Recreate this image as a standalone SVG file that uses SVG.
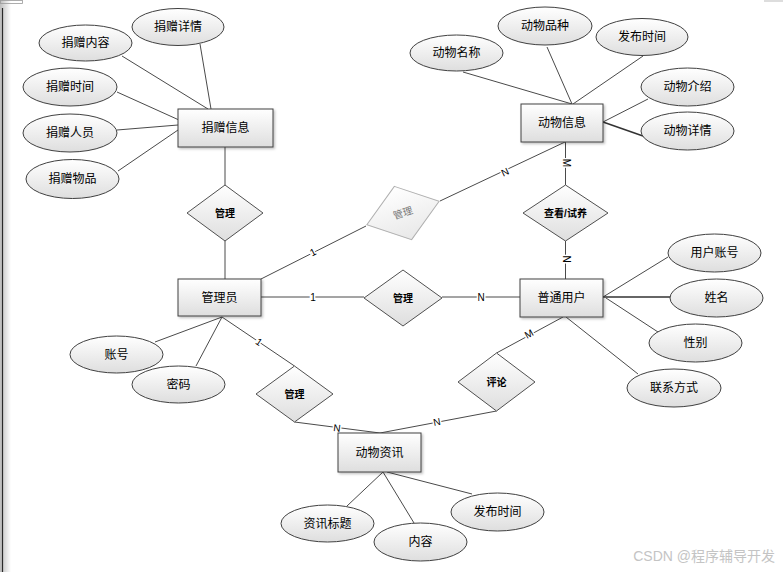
<svg xmlns="http://www.w3.org/2000/svg" width="783" height="572" viewBox="0 0 783 572">
<defs>
<linearGradient id="g" x1="0" y1="0" x2="0" y2="1">
<stop offset="0" stop-color="#ffffff"/>
<stop offset="1" stop-color="#dedede"/>
</linearGradient>
<linearGradient id="gf" x1="0" y1="0" x2="0" y2="1">
<stop offset="0" stop-color="#ffffff"/>
<stop offset="1" stop-color="#e8e8e8"/>
</linearGradient>
<linearGradient id="edge" x1="0" y1="0" x2="1" y2="0">
<stop offset="0" stop-color="#bdbdbd"/>
<stop offset="1" stop-color="#ffffff"/>
</linearGradient>
<filter id="sh" x="-20%" y="-20%" width="150%" height="150%">
<feDropShadow dx="1.5" dy="1.5" stdDeviation="1" flood-color="#000" flood-opacity="0.25"/>
</filter>
</defs>
<style>
.ent{fill:url(#g);stroke:#404040;stroke-width:1;filter:url(#sh)}
.att{fill:url(#g);stroke:#404040;stroke-width:1}
.rel{fill:url(#g);stroke:#505050;stroke-width:1}
.relf{fill:url(#gf);stroke:#b0b0b0;stroke-width:1}
.t{font-family:"Liberation Sans","Noto Sans CJK SC",sans-serif;font-size:12px;fill:#000;text-anchor:middle;dominant-baseline:central}
.tr{font-family:"Liberation Sans","Noto Sans CJK SC",sans-serif;font-size:10px;fill:#000;text-anchor:middle;dominant-baseline:central;font-weight:bold}
.lbl{font-family:"Liberation Sans",sans-serif;font-size:10px;fill:#000;text-anchor:middle;dominant-baseline:central;paint-order:stroke;stroke:#fff;stroke-width:3px}
.ln{stroke:#4a4a4a;stroke-width:1;fill:none}
.lnb{stroke:#333;stroke-width:1.6;fill:none}
</style>
<rect width="783" height="572" fill="#fff"/>
<rect x="0" y="0" width="11" height="572" fill="url(#edge)"/>
<line x1="2.5" y1="8" x2="2.5" y2="572" stroke="#2a2a2a" stroke-width="1.2"/>
<rect x="0.5" y="0.5" width="22" height="3" fill="none" stroke="#999" stroke-width="0.8"/>
<line x1="764" y1="1" x2="783" y2="1" stroke="#bbb" stroke-width="1"/>

<g id="connectors">
<line class="ln" x1="200" y1="44" x2="211" y2="109"/>
<line class="ln" x1="122" y1="56" x2="208" y2="109"/>
<line class="ln" x1="117" y1="92" x2="179" y2="120"/>
<line class="ln" x1="117" y1="130" x2="178" y2="125"/>
<line class="ln" x1="118" y1="171" x2="178" y2="130"/>
<line class="ln" x1="225" y1="147" x2="225" y2="185"/>
<line class="ln" x1="225" y1="241" x2="225" y2="279"/>
<line class="ln" x1="261" y1="279" x2="366" y2="226"/>
<line class="ln" x1="440" y1="201" x2="565" y2="142"/>
<line class="ln" x1="463" y1="72" x2="572" y2="104"/>
<line class="ln" x1="547" y1="47" x2="572" y2="104"/>
<line class="ln" x1="643" y1="56" x2="573" y2="104"/>
<line class="ln" x1="648" y1="99" x2="603" y2="122"/>
<line class="lnb" x1="603" y1="122" x2="643" y2="136"/>
<line class="ln" x1="565.5" y1="142" x2="565.5" y2="185"/>
<line class="ln" x1="565.5" y1="241" x2="565.5" y2="279"/>
<line class="ln" x1="261" y1="297" x2="364" y2="297"/>
<line class="ln" x1="442" y1="297" x2="520" y2="297"/>
<line class="ln" x1="603" y1="297" x2="668" y2="257"/>
<line class="lnb" x1="603" y1="297" x2="670" y2="297"/>
<line class="ln" x1="606" y1="298" x2="658" y2="332"/>
<line class="ln" x1="566" y1="317" x2="638" y2="374"/>
<line class="ln" x1="563" y1="317" x2="496.5" y2="353"/>
<line class="ln" x1="496.5" y1="411" x2="380" y2="433"/>
<line class="ln" x1="222" y1="317" x2="294.5" y2="366"/>
<line class="ln" x1="294.5" y1="422" x2="380" y2="433"/>
<line class="ln" x1="155" y1="342" x2="222" y2="317"/>
<line class="ln" x1="196" y1="366" x2="222" y2="317"/>
<line class="ln" x1="383" y1="472" x2="347" y2="506"/>
<line class="ln" x1="383" y1="472" x2="414" y2="523"/>
<line class="ln" x1="387" y1="472" x2="472" y2="494"/>
<text class="lbl" transform="translate(313,252) rotate(-27)">1</text>
<text class="lbl" transform="translate(505,172) rotate(-25)">N</text>
<text class="lbl" transform="translate(566,163) rotate(90)">M</text>
<text class="lbl" transform="translate(566,259) rotate(90)">N</text>
<text class="lbl" x="313" y="297">1</text>
<text class="lbl" x="481" y="297">N</text>
<text class="lbl" transform="translate(529,334) rotate(-29)">M</text>
<text class="lbl" transform="translate(259,342) rotate(34)">1</text>
<text class="lbl" transform="translate(337,428) rotate(7)">N</text>
<text class="lbl" transform="translate(437,422) rotate(-11)">N</text>
</g>

<g id="juanzeng-xinxi"><rect class="ent" x="178" y="109" width="95" height="38"/><text class="t" x="225.5" y="128">捐赠信息</text></g>
<g id="juanzeng-xiangqing"><ellipse class="att" cx="178" cy="27" rx="46" ry="18.5"/><text class="t" x="178" y="27">捐赠详情</text></g>
<g id="juanzeng-neirong"><ellipse class="att" cx="85.5" cy="43" rx="46.5" ry="18"/><text class="t" x="85.5" y="43">捐赠内容</text></g>
<g id="juanzeng-shijian"><ellipse class="att" cx="70" cy="87" rx="47" ry="19"/><text class="t" x="70" y="87">捐赠时间</text></g>
<g id="juanzeng-renyuan"><ellipse class="att" cx="70" cy="133" rx="47" ry="19"/><text class="t" x="70" y="133">捐赠人员</text></g>
<g id="juanzeng-wupin"><ellipse class="att" cx="72.5" cy="179" rx="46.5" ry="19.5"/><text class="t" x="72.5" y="179">捐赠物品</text></g>

<g id="rel-guanli-1"><polygon class="rel" points="225,185 263,213 225,241 187,213"/><text class="tr" x="225" y="213">管理</text></g>
<g id="rel-guanli-faded" transform="translate(403,213) rotate(-18)"><polygon class="relf" points="0,-28 38,0 0,28 -38,0"/><text class="tr" x="0" y="0" style="fill:#777;font-weight:normal">管理</text></g>
<g id="rel-guanli-2"><polygon class="rel" points="403,270 442,298 403,326 364,298"/><text class="tr" x="403" y="298">管理</text></g>
<g id="rel-guanli-3"><polygon class="rel" points="294.5,366 333,394 294.5,422 256,394"/><text class="tr" x="294.5" y="394">管理</text></g>
<g id="rel-chakan"><polygon class="rel" points="565.5,185 608,213 565.5,241 523,213"/><text class="tr" x="565.5" y="213">查看/试养</text></g>
<g id="rel-pinglun"><polygon class="rel" points="496.5,353 535,382 496.5,411 458,382"/><text class="tr" x="496.5" y="382">评论</text></g>

<g id="guanliyuan"><rect class="ent" x="178" y="279" width="83" height="37"/><text class="t" x="219.5" y="297.5">管理员</text></g>
<g id="zhanghao"><ellipse class="att" cx="116.5" cy="354.5" rx="46.5" ry="18.5"/><text class="t" x="116.5" y="354.5">账号</text></g>
<g id="mima"><ellipse class="att" cx="178.5" cy="384.5" rx="46.5" ry="18.5"/><text class="t" x="178.5" y="384.5">密码</text></g>

<g id="dongwu-xinxi"><rect class="ent" x="521" y="104" width="82" height="38"/><text class="t" x="562" y="123">动物信息</text></g>
<g id="dongwu-mingcheng"><ellipse class="att" cx="456.5" cy="53" rx="46.5" ry="18"/><text class="t" x="456.5" y="53">动物名称</text></g>
<g id="dongwu-pinzhong"><ellipse class="att" cx="545" cy="26" rx="47" ry="19"/><text class="t" x="545" y="26">动物品种</text></g>
<g id="fabu-shijian-1"><ellipse class="att" cx="642" cy="37" rx="46" ry="18.5"/><text class="t" x="642" y="37">发布时间</text></g>
<g id="dongwu-jieshao"><ellipse class="att" cx="687.5" cy="87" rx="46.5" ry="19"/><text class="t" x="687.5" y="87">动物介绍</text></g>
<g id="dongwu-xiangqing"><ellipse class="att" cx="687.5" cy="131" rx="46.5" ry="19"/><text class="t" x="687.5" y="131">动物详情</text></g>

<g id="putong-yonghu"><rect class="ent" x="520" y="279" width="83" height="38"/><text class="t" x="561.5" y="298">普通用户</text></g>
<g id="yonghu-zhanghao"><ellipse class="att" cx="714.5" cy="253" rx="46.5" ry="19"/><text class="t" x="714.5" y="253">用户账号</text></g>
<g id="xingming"><ellipse class="att" cx="716.5" cy="298" rx="46.5" ry="19"/><text class="t" x="716.5" y="298">姓名</text></g>
<g id="xingbie"><ellipse class="att" cx="695.5" cy="343" rx="46.5" ry="19"/><text class="t" x="695.5" y="343">性别</text></g>
<g id="lianxi-fangshi"><ellipse class="att" cx="674" cy="388" rx="47" ry="19"/><text class="t" x="674" y="388">联系方式</text></g>

<g id="dongwu-zixun"><rect class="ent" x="338" y="433" width="83" height="39"/><text class="t" x="379.5" y="452.5">动物资讯</text></g>
<g id="zixun-biaoti"><ellipse class="att" cx="327.5" cy="523.5" rx="46.5" ry="18.5"/><text class="t" x="327.5" y="523.5">资讯标题</text></g>
<g id="neirong"><ellipse class="att" cx="420.5" cy="542" rx="46.5" ry="19"/><text class="t" x="420.5" y="542">内容</text></g>
<g id="fabu-shijian-2"><ellipse class="att" cx="497.5" cy="512" rx="46.5" ry="19"/><text class="t" x="497.5" y="512">发布时间</text></g>

<text x="775" y="561" text-anchor="end" style="font-family:'Liberation Sans','Noto Sans CJK SC',sans-serif;font-size:14px;fill:#c4c4c4">CSDN @程序辅导开发</text>
</svg>
